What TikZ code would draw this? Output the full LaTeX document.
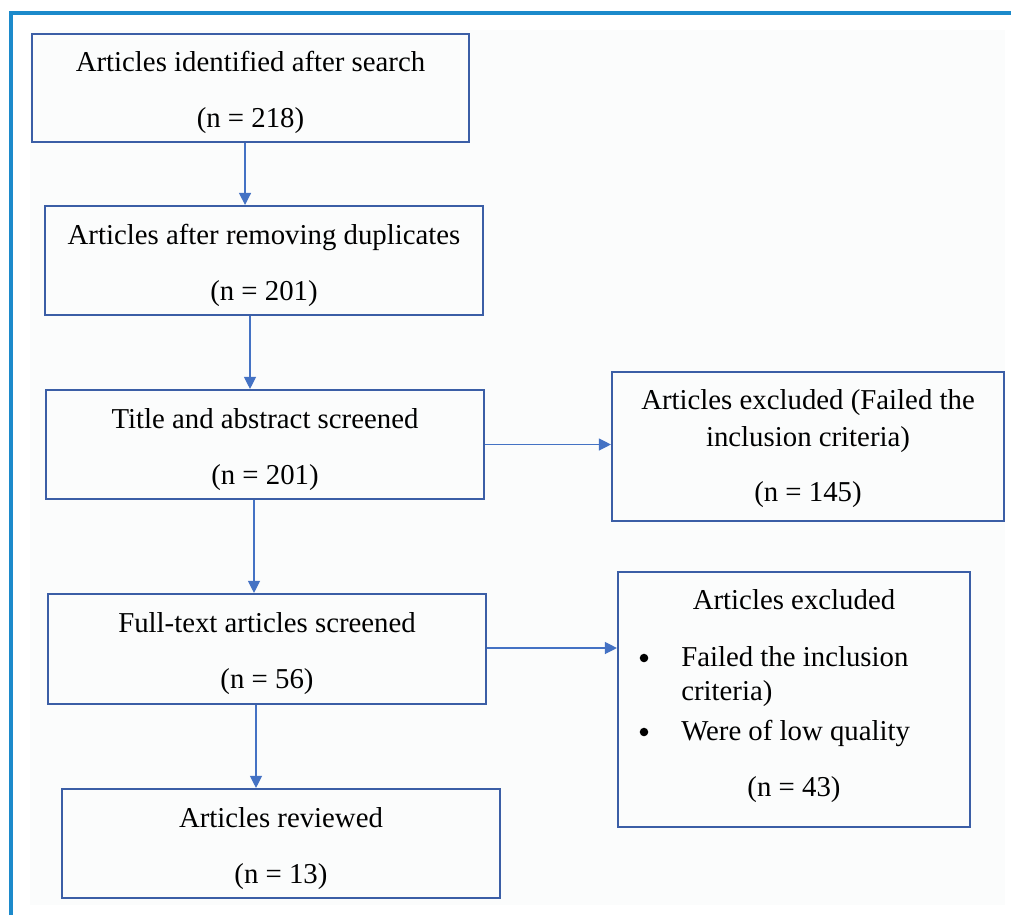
\documentclass[tikz,border=0pt]{standalone}
\usepackage{fontspec}
\setmainfont{Liberation Serif}
\usetikzlibrary{arrows.meta}
\definecolor{frameblue}{HTML}{1C8ACB}
\definecolor{boxblue}{HTML}{3B5EA6}
\definecolor{arrowblue}{HTML}{4472C4}
\definecolor{pagebg}{HTML}{FBFCFC}
\begin{document}
\begin{tikzpicture}[x=0.75pt,y=-0.75pt,
  box/.style={draw=boxblue,line width=1.6pt,rectangle,inner sep=0pt},
  btxt/.style={align=center,font=\fontsize{21.6}{42}\selectfont,inner sep=0pt},
  txt/.style={font=\fontsize{21.6}{26}\selectfont,inner sep=0pt},
  dot/.style={circle,fill=black,inner sep=0pt,minimum size=6.4pt},
  arr/.style={draw=arrowblue,line width=0.9pt,-{Triangle[length=9pt,width=9pt]}}]
\useasboundingbox (0,0) rectangle (1011,915);
\fill[white] (0,0) rectangle (1011,915);
\fill[pagebg] (30,30) rectangle (1005,905);
\draw[frameblue,line width=2.5pt] (11,915) -- (11,13) -- (1011,13);

\node[box,minimum width=327.75pt,minimum height=81pt] (b1) at (250.5,88) {};
\node[btxt] (t1) at ([yshift=-3.6pt]b1.center) {Articles identified after search\\(n = 218)};
\node[box,minimum width=328.5pt,minimum height=81.75pt] (b2) at (264,260.5) {};
\node[btxt] (t2) at ([yshift=-3.6pt]b2.center) {Articles after removing duplicates\\(n = 201)};
\node[box,minimum width=328.5pt,minimum height=81.75pt] (b3) at (265,444.5) {};
\node[btxt] (t3) at ([yshift=-3.6pt]b3.center) {Title and abstract screened\\(n = 201)};
\node[box,minimum width=328.5pt,minimum height=82.5pt] (b4) at (267,649) {};
\node[btxt] (t4) at ([yshift=-3.6pt]b4.center) {Full-text articles screened\\(n = 56)};
\node[box,minimum width=328.5pt,minimum height=81.75pt] (b5) at (281,843.5) {};
\node[btxt] (t5) at ([yshift=-3.6pt]b5.center) {Articles reviewed\\(n = 13)};

\node[box,minimum width=294pt,minimum height=111.75pt] (r1) at (808,446.5) {};
\node[btxt,font=\fontsize{21.6}{27.75}\selectfont] (rt1) at ([yshift=-1.8pt]r1.center)
  {Articles excluded (Failed the\\inclusion criteria)\\[13.5pt](n = 145)};

\node[box,minimum width=264pt,minimum height=191.25pt] (r2) at (794,699.5) {};
\node[txt,anchor=base] (r2t) at (794,609) {Articles excluded};
\node[dot] (r2b1) at (644,658) {};
\node[txt,anchor=base west] (r2i1) at (681,666) {Failed the inclusion};
\node[txt,anchor=base west] (r2i1b) at (681,700) {criteria)};
\node[dot] (r2b2) at (644,732) {};
\node[txt,anchor=base west] (r2i2) at (681,740) {Were of low quality};
\node[txt,anchor=base] (r2n) at (794,796) {(n = 43)};

\coordinate (a1) at ([xshift=-4.1pt]b1.south);
\coordinate (a2) at ([xshift=-10.5pt]b2.south);
\coordinate (a3) at ([xshift=-8.25pt]b3.south);
\coordinate (a4) at ([xshift=-8.25pt]b4.south);
\draw[arr] (a1) -- (a1 |- b2.north);
\draw[arr] (a2) -- (a2 |- b3.north);
\draw[arr] (a3) -- (a3 |- b4.north);
\draw[arr] (a4) -- (a4 |- b5.north);
\draw[arr] (b3.east) -- (b3.east -| r1.west);
\draw[arr] ([yshift=0.75pt]b4.east) -- ([yshift=0.75pt]b4.east -| r2.west);
\end{tikzpicture}
\end{document}
